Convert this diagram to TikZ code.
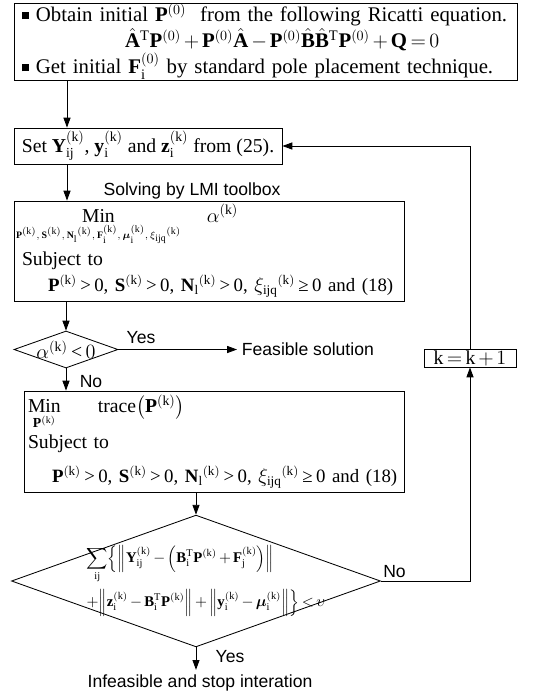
\documentclass[tikz,border=0pt]{standalone}
\usepackage{amsmath,amssymb}
\usepackage{fontspec}
\setmainfont{Liberation Serif}
\setsansfont{Liberation Sans}
\usetikzlibrary{arrows.meta,shapes.geometric,positioning,calc}

\newcommand{\supk}{^{(\mathrm{k})}}
\newcommand{\sqbullet}{\rule[1.5pt]{5pt}{5pt}\ }
\newcommand{\tgt}{\mathrel{\text{>}}}
\newcommand{\tge}{\mathrel{\text{≥}}}
\newcommand{\constr}{\mbox{\fontsize{13.4}{16}\selectfont$\mathbf P\supk\tgt\text{0}$, $\mathbf S\supk\tgt\text{0}$, $\mathbf N_{\mathrm l}{}\supk\tgt\text{0}$, $\xi_{\mathrm{ijq}}{}\supk\tge\text{0}$ and (18)}}
\thickmuskip=3mu plus 2mu
\medmuskip=2.5mu plus 1mu

\begin{document}
\begin{tikzpicture}[
    box/.style={draw, line width=0.6pt, align=left, inner ysep=0pt, font=\fontsize{14}{16}\selectfont},
    decision/.style={draw, diamond, line width=0.6pt, inner sep=0pt, aspect=2.8, align=left},
    lbl/.style={font=\sffamily\fontsize{12.5}{14}\selectfont},
    arr/.style={-{Triangle[length=7pt,width=5pt]}, line width=0.6pt}
]
\useasboundingbox (0,0) rectangle (13.975,-17.4);

\node[box, text width=12.175cm, inner xsep=0.2cm, minimum height=1.925cm, font=\fontsize{14.8}{15.5}\selectfont] (init) at (6.6375,-1.0375)
    {\sqbullet Obtain initial $\mathbf P^{(0)}$\ \ from the following Ricatti equation.\\[1pt]
     \hspace*{2.575cm}$\hat{\mathbf A}^{\mathrm T}\mathbf P^{(0)}+\mathbf P^{(0)}\hat{\mathbf A}-\mathbf P^{(0)}\hat{\mathbf B}\hat{\mathbf B}^{\mathrm T}\mathbf P^{(0)}+\mathbf Q=0$\\
     \sqbullet Get initial $\mathbf F_{\mathrm i}^{(0)}$ by standard pole placement technique.};
\node[box, minimum width=6.7cm, minimum height=0.9cm, align=center] (setY) at (3.7,-3.65)
    {Set $\mathbf Y_{\mathrm{ij}}\supk$, $\mathbf y_{\mathrm i}\supk$ and $\mathbf z_{\mathrm i}\supk$\ from (25).};
\node[lbl] (lmi) at (4.8,-4.775) {Solving by LMI toolbox};

\node[box, text width=9.35cm, inner xsep=0.2cm, minimum height=2.5cm] (lmiopt) at (5.225,-6.275)
    {\hspace*{-0.15cm}$\displaystyle\mathop{\mathrm{Min}}\limits_{\scriptscriptstyle\mathbf P\supk,\;\mathbf S\supk,\;\mathbf N_{\mathrm l}{}\supk,\;\mathbf F_{\mathrm i}\supk,\;\boldsymbol\mu_{\mathrm i}\supk,\;\xi_{\mathrm{ijq}}{}\supk}$\hspace{0.65cm}$\alpha\supk$\\[3pt]
     Subject to\\[3pt]
     \hspace*{0.65cm}\constr};

\node[decision, minimum width=2.6cm, minimum height=0.925cm, inner xsep=-3pt, inner ysep=-3pt, font=\fontsize{14}{16}\selectfont] (feasq) at (1.65,-8.7375)
    {$\alpha\supk\mathrel{\text{<}}0$};
\node[lbl] (yes1) at (3.525,-8.45) {Yes};
\node[lbl, anchor=west] (feas) at (5.925,-8.7375) {Feasible solution};
\node[lbl] (no1) at (2.275,-9.55) {No};

\node[box, text width=9.3cm, inner xsep=0.1cm, minimum height=2.525cm] (traceopt) at (5.35,-11.0375)
    {$\displaystyle\mathop{\mathrm{Min}}\limits_{\mathbf P\supk}$\hspace{0.925cm}trace$\bigl(\mathbf P\supk\bigr)$\\[3pt]
     Subject to\\[8pt]
     \hspace*{0.6cm}\constr};

\node[decision, minimum width=9.1cm, minimum height=3.25cm, inner xsep=-0.3cm, inner ysep=-0.3cm, font=\fontsize{10.5}{12}\selectfont] (conv) at (4.9,-14.525)
    {\hspace*{0.5cm}$\displaystyle\sum_{\mathrm{ij}}\Bigl\{\Bigl\|\mathbf Y_{\mathrm{ij}}\supk-\Bigl(\mathbf B_{\mathrm i}^{\mathrm T}\mathbf P\supk+\mathbf F_{\mathrm j}\supk\Bigr)\Bigr\|$\\[3pt]
     \hspace*{0.5cm}$\displaystyle+\Bigl\|\mathbf z_{\mathrm i}\supk-\mathbf B_{\mathrm i}^{\mathrm T}\mathbf P\supk\Bigr\|+\Bigl\|\mathbf y_{\mathrm i}\supk-\boldsymbol\mu_{\mathrm i}\supk\Bigr\|\Bigr\}<\upsilon$};
\node[lbl] (no2) at (9.8625,-14.3) {No};
\node[lbl] (yes2) at (5.75,-16.425) {Yes};
\node[lbl] (stop) at (5,-17.075) {Infeasible and stop interation};

\node[box, minimum width=2.3cm, minimum height=0.45cm, align=center] (inc) at (11.75,-8.95) {$\mathrm k=\mathrm k+1$};

\coordinate (spine) at (1.675,0);
\draw[arr] (init.south -| spine) -- (setY.north -| spine);
\draw[arr] (setY.south -| spine) -- (lmiopt.north -| spine);
\draw[arr] (lmiopt.south -| feasq.north) -- (feasq.north);
\draw[arr] (feasq.east) -- (feas.west);
\draw[arr] (feasq.south) -- (traceopt.north -| feasq.south);
\draw[arr] (traceopt.south -| conv.north) -- (conv.north);
\draw[arr] (conv.south) -- (stop.north -| conv.south);
\draw[arr] (conv.east) -| (inc.south);
\draw[arr] (inc.north) |- (setY.east);
\end{tikzpicture}
\end{document}
